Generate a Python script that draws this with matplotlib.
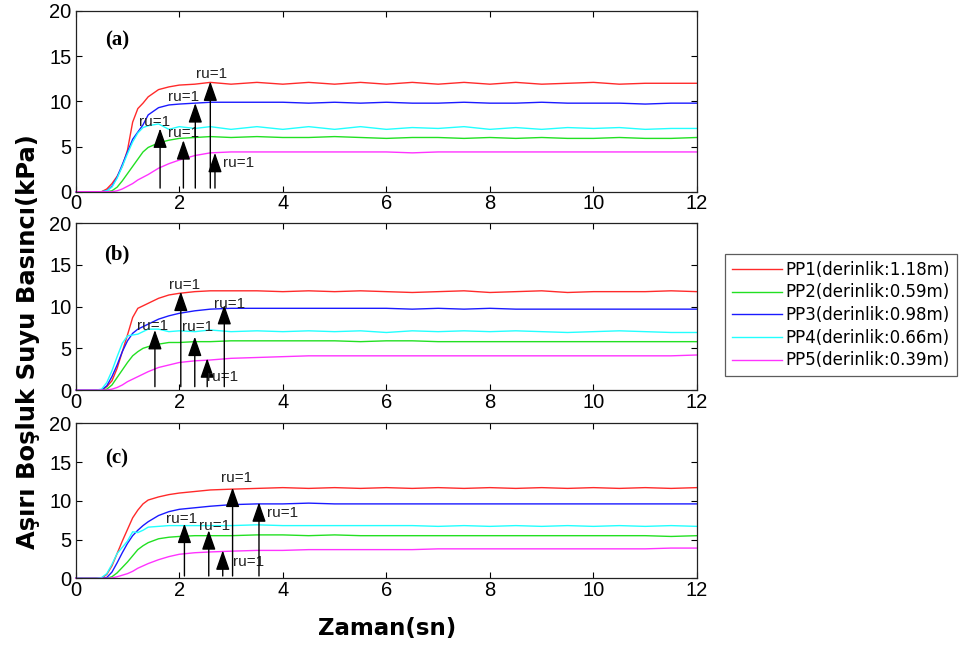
import matplotlib
matplotlib.use("Agg")
import matplotlib.pyplot as plt
from matplotlib.lines import Line2D

# Sample times (s), shared by all three tests
TIME = [0, 0.4, 0.5, 0.6, 0.7, 0.8, 0.9, 1.0, 1.1, 1.2, 1.3, 1.4, 1.6, 1.8,
        2.0, 2.3, 2.6, 3.0, 3.5, 4.0, 4.5, 5.0, 5.5, 6.0, 6.5, 7.0, 7.5,
        8.0, 8.5, 9.0, 9.5, 10.0, 10.5, 11.0, 11.5, 12.0]

# Excess pore water pressure (kPa) - test (a)
A_PP1 = [0, 0, 0, 0.3, 0.9, 1.7, 2.8, 4.6, 7.7, 9.2, 9.8, 10.5, 11.3, 11.6, 11.8, 11.9, 12.1, 11.9,
         12.1, 11.9, 12.1, 11.9, 12.1, 11.9, 12.1, 11.9, 12.1, 11.9, 12.1, 11.9, 12.0, 12.1, 11.9, 12.0, 12.0, 12.0]
A_PP2 = [0, 0, 0, 0, 0.1, 0.5, 1.2, 2.0, 2.8, 3.6, 4.4, 4.9, 5.4, 5.7, 5.9, 6.0, 6.1, 6.0,
         6.1, 6.0, 6.0, 6.1, 6.0, 5.9, 6.0, 6.0, 5.9, 6.0, 5.9, 6.0, 5.9, 5.9, 6.0, 5.9, 5.9, 6.0]
A_PP3 = [0, 0, 0, 0.1, 0.6, 1.6, 3.0, 4.4, 5.8, 6.6, 7.4, 8.5, 9.3, 9.6, 9.7, 9.8, 9.9, 9.9,
         9.9, 9.9, 9.8, 9.9, 9.8, 9.9, 9.8, 9.8, 9.9, 9.8, 9.8, 9.9, 9.8, 9.8, 9.8, 9.7, 9.8, 9.8]
A_PP4 = [0, 0, 0, 0.1, 0.5, 1.5, 2.8, 4.2, 5.5, 6.5, 7.1, 7.3, 7.5, 6.9, 7.2, 7.0, 7.2, 6.9,
         7.2, 6.9, 7.2, 6.9, 7.2, 6.9, 7.1, 7.0, 7.2, 6.9, 7.1, 6.9, 7.1, 7.0, 7.1, 6.9, 7.0, 7.0]
A_PP5 = [0, 0, 0, 0, 0, 0.1, 0.3, 0.6, 0.9, 1.3, 1.6, 1.9, 2.6, 3.1, 3.5, 4.0, 4.3, 4.4,
         4.4, 4.4, 4.4, 4.4, 4.4, 4.4, 4.3, 4.4, 4.4, 4.4, 4.4, 4.4, 4.4, 4.4, 4.4, 4.4, 4.4, 4.4]

# test (b)
B_PP1 = [0, 0, 0, 0.4, 1.1, 2.6, 4.6, 6.6, 8.7, 9.8, 10.1, 10.4, 11.0, 11.4, 11.6, 11.8, 11.9, 11.9,
         11.9, 11.8, 11.9, 11.8, 11.9, 11.8, 11.7, 11.8, 11.9, 11.7, 11.8, 11.9, 11.7, 11.8, 11.8, 11.8, 11.9, 11.8]
B_PP2 = [0, 0, 0, 0.1, 0.6, 1.5, 2.4, 3.3, 4.1, 4.6, 5.0, 5.2, 5.5, 5.7, 5.7, 5.8, 5.8, 5.9,
         5.9, 5.9, 5.9, 5.9, 5.8, 5.9, 5.9, 5.8, 5.8, 5.8, 5.8, 5.8, 5.8, 5.8, 5.8, 5.8, 5.8, 5.8]
B_PP3 = [0, 0, 0, 0.5, 1.6, 3.0, 4.6, 5.9, 6.8, 7.3, 7.6, 7.9, 8.5, 8.9, 9.2, 9.5, 9.7, 9.8,
         9.8, 9.8, 9.8, 9.8, 9.8, 9.8, 9.7, 9.8, 9.7, 9.8, 9.7, 9.7, 9.7, 9.7, 9.7, 9.7, 9.7, 9.7]
B_PP4 = [0, 0, 0.1, 0.9, 2.3, 4.0, 5.6, 6.5, 6.6, 6.7, 7.0, 7.3, 7.3, 7.0, 7.1, 7.0, 7.2, 7.0,
         7.1, 7.0, 7.1, 7.0, 7.1, 6.9, 7.1, 7.0, 7.1, 7.0, 7.1, 7.0, 6.9, 7.0, 7.1, 7.0, 6.9, 6.9]
B_PP5 = [0, 0, 0, 0, 0.1, 0.3, 0.6, 1.0, 1.3, 1.6, 1.9, 2.2, 2.7, 3.0, 3.3, 3.5, 3.6, 3.8,
         3.9, 4.0, 4.1, 4.1, 4.1, 4.1, 4.1, 4.1, 4.1, 4.1, 4.1, 4.1, 4.1, 4.1, 4.1, 4.1, 4.1, 4.2]

# test (c)
C_PP1 = [0, 0, 0, 0.5, 1.6, 3.2, 4.8, 6.3, 7.8, 8.8, 9.6, 10.1, 10.5, 10.8, 11.0, 11.2, 11.4, 11.5,
         11.6, 11.7, 11.6, 11.7, 11.6, 11.7, 11.6, 11.7, 11.6, 11.7, 11.6, 11.7, 11.6, 11.7, 11.6, 11.7, 11.6, 11.7]
C_PP2 = [0, 0, 0, 0, 0.2, 0.7, 1.4, 2.1, 2.9, 3.7, 4.2, 4.6, 5.1, 5.3, 5.4, 5.5, 5.5, 5.5,
         5.6, 5.6, 5.5, 5.6, 5.5, 5.5, 5.5, 5.5, 5.5, 5.5, 5.5, 5.5, 5.5, 5.5, 5.5, 5.5, 5.4, 5.5]
C_PP3 = [0, 0, 0, 0.1, 0.8, 2.0, 3.3, 4.5, 5.5, 6.2, 6.8, 7.3, 8.1, 8.6, 8.9, 9.1, 9.3, 9.5,
         9.6, 9.6, 9.7, 9.6, 9.6, 9.6, 9.6, 9.6, 9.6, 9.6, 9.6, 9.6, 9.6, 9.6, 9.6, 9.6, 9.6, 9.6]
C_PP4 = [0, 0, 0.1, 0.6, 1.8, 3.2, 4.0, 4.8, 6.0, 5.9, 6.2, 6.6, 6.7, 6.8, 6.8, 6.8, 6.8, 6.8,
         6.9, 6.8, 6.8, 6.8, 6.8, 6.8, 6.8, 6.7, 6.8, 6.7, 6.8, 6.7, 6.8, 6.7, 6.8, 6.7, 6.8, 6.7]
C_PP5 = [0, 0, 0, 0, 0.05, 0.2, 0.4, 0.6, 0.9, 1.3, 1.6, 1.9, 2.4, 2.8, 3.1, 3.3, 3.4, 3.5,
         3.6, 3.6, 3.7, 3.7, 3.7, 3.7, 3.7, 3.8, 3.8, 3.8, 3.8, 3.8, 3.8, 3.8, 3.8, 3.8, 3.9, 3.9]

# ru=1 markers: (time, arrow tail, arrow tip, label time, label pressure)
RU_A = [(1.63, 0.4, 7.0, 1.53, 7.7), (2.08, 0.4, 5.7, 2.09, 6.5), (2.31, 0.4, 9.8, 2.09, 10.5),
        (2.60, 0.4, 12.2, 2.62, 13.0), (2.69, 0.4, 4.3, 3.14, 3.2)]
RU_B = [(1.53, 0.4, 7.2, 1.49, 7.7), (2.03, 0.4, 11.8, 2.10, 12.6), (2.30, 0.4, 6.4, 2.35, 7.6),
        (2.54, 0.4, 3.8, 2.84, 1.6), (2.87, 0.4, 10.2, 2.97, 10.3)]
RU_C = [(2.10, 0.3, 7.05, 2.05, 7.6), (2.57, 0.3, 6.2, 2.68, 6.8), (3.03, 0.3, 11.7, 3.10, 12.9),
        (2.84, 0.3, 3.6, 3.33, 2.1), (3.54, 0.3, 9.8, 3.99, 8.4)]

LABELS = ["PP1(derinlik:1.18m)", "PP2(derinlik:0.59m)", "PP3(derinlik:0.98m)",
          "PP4(derinlik:0.66m)", "PP5(derinlik:0.39m)"]
COLORS = ["#ff2a2a", "#22e022", "#1a1aff", "#22ffff", "#ff33ff"]

PANELS = [
    ("(a)", [A_PP1, A_PP2, A_PP3, A_PP4, A_PP5], RU_A, 16.7),
    ("(b)", [B_PP1, B_PP2, B_PP3, B_PP4, B_PP5], RU_B, 16.3),
    ("(c)", [C_PP1, C_PP2, C_PP3, C_PP4, C_PP5], RU_C, 15.4),
]

W, H = 959, 649
# axes boxes in pixels: left, top, right, bottom
BOXES = [(75.7, 11, 697, 191.7), (75.7, 223.3, 697, 390), (75.7, 423.3, 697, 578.3)]

fig = plt.figure(figsize=(W / 100, H / 100), dpi=100)

for (tag, series, arrows, tag_y), (l, t, r, b) in zip(PANELS, BOXES):
    ax = fig.add_axes([l / W, 1 - b / H, (r - l) / W, (b - t) / H])
    for vals, c in zip(series, COLORS):
        ax.plot(TIME, vals, color=c, lw=1.0, clip_on=False)
    ax.set_xlim(0, 12)
    ax.set_ylim(0, 20)
    ax.set_xticks(range(0, 13, 2))
    ax.set_yticks(range(0, 21, 5))
    ax.tick_params(direction="in", top=True, right=True, length=4, width=0.8,
                   labelsize=14.5, pad=3)
    ax.tick_params(axis="x", pad=2)
    for lab in ax.get_xticklabels() + ax.get_yticklabels():
        lab.set_fontfamily("Liberation Sans")
    for sp in ax.spines.values():
        sp.set_linewidth(0.9)
        sp.set_color("#222222")
    ax.text(0.8, tag_y, tag, ha="center", va="center", fontsize=15,
            fontweight="bold", family="Liberation Serif")
    for x, y0, y1, tx, ty in arrows:
        ax.annotate("", xy=(x, y1), xytext=(x, y0),
                    arrowprops=dict(arrowstyle="-|>,head_length=1.2,head_width=0.42",
                                    color="black", lw=1.0, shrinkA=0, shrinkB=0,
                                    mutation_scale=10))
        ax.text(tx, ty, "ru=1", ha="center", va="center", fontsize=11,
                family="Liberation Sans", color="#222222")

fig.text(387 / W, 1 - 628 / H, "Zaman(sn)", ha="center", va="center",
         fontsize=16.5, fontweight="bold", family="DejaVu Sans")
fig.text(28 / W, 1 - 342 / H, "Aşırı Boşluk Suyu Basıncı(kPa)", ha="center",
         va="center", rotation=90, fontsize=17.5, fontweight="bold",
         family="DejaVu Sans")

handles = [Line2D([], [], color=c, lw=1.0) for c in COLORS]
leg = fig.legend(handles, LABELS, loc="upper left",
                 bbox_to_anchor=(725 / W, 1 - 254 / H), frameon=True,
                 fancybox=False, edgecolor="#333333", fontsize=12,
                 handlelength=3.0, handletextpad=0.25, labelspacing=0.28,
                 borderpad=0.4, borderaxespad=0)
leg.get_frame().set_linewidth(0.9)

fig.savefig("out.png", dpi=100)
